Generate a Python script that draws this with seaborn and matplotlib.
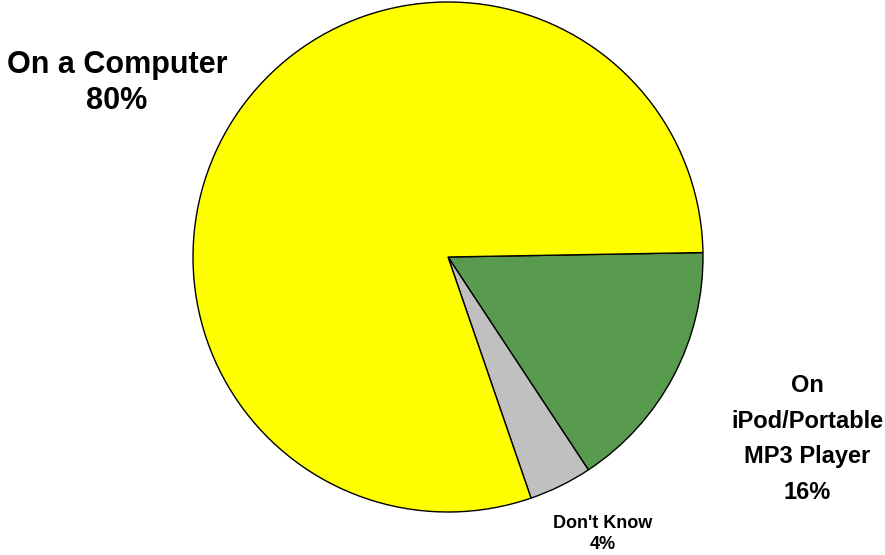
import matplotlib
matplotlib.use("Agg")
import matplotlib.pyplot as plt
import seaborn as sns

categories = ["On\niPod/Portable\nMP3 Player", "Don't Know", "On a Computer"]
values = [16, 4, 80]
colors = ["#589A4E", "#C0C0C0", "#FFFF00"]
label_texts = [f"{c}\n{v}%" for c, v in zip(categories, values)]

sns.set_style("white")
plt.rcParams['font.family'] = ['Liberation Sans', 'DejaVu Sans']

W, H = 885, 555
fig = plt.figure(figsize=(W / 100, H / 100), dpi=100)
ax = fig.add_axes([0, 0, 1, 1])

cx, cy, r = 448, H - 257, 255
ax.pie(values, colors=colors, startangle=1, counterclock=False,
       radius=r, center=(cx, cy), frame=True,
       wedgeprops=dict(edgecolor="black", linewidth=1.0))
ax.set_xlim(0, W)
ax.set_ylim(0, H)
ax.set_aspect("equal")
ax.axis("off")

# label positions (pixel coords from top-left)
pos = [(807, 439), (603, 534), (117, 83)]
sizes = [17, 13, 22]
spacing = [1.72, 1.25, 1.25]
for txt, (x, y), s, ls in zip(label_texts, pos, sizes, spacing):
    ax.text(x, H - y, txt, ha="center", va="center", fontsize=s,
            fontweight="bold", linespacing=ls, color="black")

fig.savefig("out.png", dpi=100)
